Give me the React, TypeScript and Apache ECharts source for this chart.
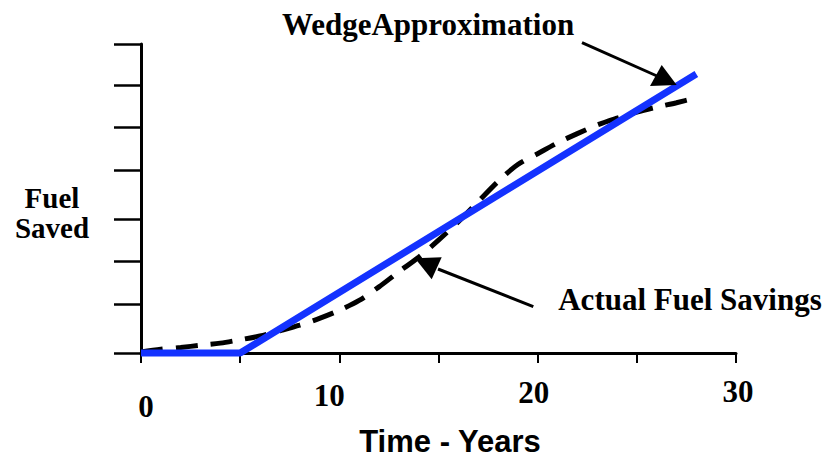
import React, { useEffect, useRef } from "react";
import * as echarts from "echarts";

// ---- data ----
const years = [0, 1, 2, 3, 4, 5, 6, 7, 8, 9, 10, 11, 12, 13, 14, 15, 16, 17, 18, 19, 20, 21, 22, 23, 24, 25, 26, 27, 28];
const actualSavings = [0.3, 1.2, 1.8, 2.5, 3.2, 4.3, 5.5, 7.2, 9.0, 11.2, 13.8, 17, 21.4, 26.3, 31, 36.5, 42.5, 49, 55.5, 61, 64.5, 68, 71, 73.8, 76, 78, 79.6, 81, 82.6];
const wedgeYears = [0, 5, 28];
const wedgeSavings = [0, 0, 90.3];
const xTickLabels = [0, 10, 20, 30];
const yTickValues = [0, 15.8, 29.8, 43.3, 59.2, 72.9, 86.5, 100];

const yAxisTitle = ["Fuel", "Saved"];
const xAxisTitle = "Time - Years";
const wedgeLabel = "WedgeApproximation";
const actualLabel = "Actual Fuel Savings";

// label nudges (styling only): [dx, dy]
const labelNudge: Record<number, [number, number]> = {
  0: [5, 53],
  10: [-10, 42],
  20: [-4, 39],
  30: [2, 38],
};

const SERIF = "'Liberation Serif', 'Times New Roman', serif";
const SANS = "'Liberation Sans', Arial, sans-serif";

export default function App() {
  const ref = useRef<HTMLDivElement>(null);

  useEffect(() => {
    document.body.style.margin = "0";
    const chart = echarts.init(ref.current!, null, { renderer: "svg" });
    chart.setOption({
      animation: false,
      backgroundColor: "#ffffff",
      grid: { left: 141, right: 92, top: 44, bottom: 104 },
      xAxis: {
        type: "value",
        min: 0,
        max: 30,
        interval: 5,
        axisLine: { show: true, onZero: false, lineStyle: { color: "#000", width: 3 } },
        axisTick: { show: true, length: 10, lineStyle: { color: "#000", width: 2 } },
        axisLabel: { show: false },
        splitLine: { show: false },
      },
      yAxis: {
        type: "value",
        min: 0,
        max: 100,
        axisLine: { show: true, lineStyle: { color: "#000", width: 3 } },
        axisTick: {
          show: true,
          length: 27,
          customValues: yTickValues,
          lineStyle: { color: "#000", width: 2.5 },
        },
        axisLabel: { show: false },
        splitLine: { show: false },
      },
      series: [
        {
          type: "line",
          name: actualLabel,
          data: years.map((y, i) => [y, actualSavings[i]]),
          symbol: "none",
          smooth: 0.3,
          clip: false,
          lineStyle: { color: "#000", width: 5, type: [22, 13], cap: "butt" },
          z: 3,
        },
        {
          type: "line",
          name: wedgeLabel,
          data: wedgeYears.map((y, i) => [y, wedgeSavings[i]]),
          symbol: "none",
          clip: false,
          lineStyle: { color: "#1432ff", width: 7, cap: "butt" },
          z: 4,
        },
      ],
    });

    const tickTexts = xTickLabels.map((v) => {
      const px = chart.convertToPixel({ xAxisIndex: 0 }, v) as number;
      const py = chart.convertToPixel({ yAxisIndex: 0 }, 0) as number;
      const [dx, dy] = labelNudge[v] || [0, 40];
      return {
        type: "text",
        x: px + dx,
        y: py + dy,
        style: {
          text: String(v),
          font: `bold 31px ${SERIF}`,
          fill: "#000",
          align: "center",
          verticalAlign: "middle",
        },
      };
    });

    chart.setOption({
      graphic: [
        ...tickTexts,
        {
          type: "text",
          x: 52,
          y: 198,
          style: { text: yAxisTitle[0], font: `bold 29px ${SERIF}`, fill: "#000", align: "center", verticalAlign: "middle" },
        },
        {
          type: "text",
          x: 52,
          y: 228,
          style: { text: yAxisTitle[1], font: `bold 29px ${SERIF}`, fill: "#000", align: "center", verticalAlign: "middle" },
        },
        {
          type: "text",
          x: 450,
          y: 441,
          style: { text: xAxisTitle, font: `bold 31px ${SANS}`, fill: "#000", align: "center", verticalAlign: "middle" },
        },
        {
          type: "text",
          x: 428,
          y: 24,
          style: { text: wedgeLabel, font: `bold 31px ${SERIF}`, fill: "#000", align: "center", verticalAlign: "middle" },
        },
        {
          type: "text",
          x: 690,
          y: 299,
          style: { text: actualLabel, font: `bold 31px ${SERIF}`, fill: "#000", align: "center", verticalAlign: "middle" },
        },
        {
          type: "line",
          shape: { x1: 582, y1: 42.7, x2: 657, y2: 76 },
          style: { stroke: "#000", lineWidth: 3 },
          z: 10,
        },
        {
          type: "polygon",
          shape: { points: [[661.7, 65], [650, 86], [676.7, 85]] },
          style: { fill: "#000" },
          z: 10,
        },
        {
          type: "line",
          shape: { x1: 533.3, y1: 306.7, x2: 438, y2: 269 },
          style: { stroke: "#000", lineWidth: 3 },
          z: 10,
        },
        {
          type: "polygon",
          shape: { points: [[441.7, 257.3], [431.7, 279.3], [415, 258.3]] },
          style: { fill: "#000" },
          z: 10,
        },
      ],
    });

    return () => chart.dispose();
  }, []);

  return (
    <div
      ref={ref}
      style={{ position: "fixed", left: 0, top: 0, width: 828, height: 457, background: "#fff" }}
    />
  );
}
